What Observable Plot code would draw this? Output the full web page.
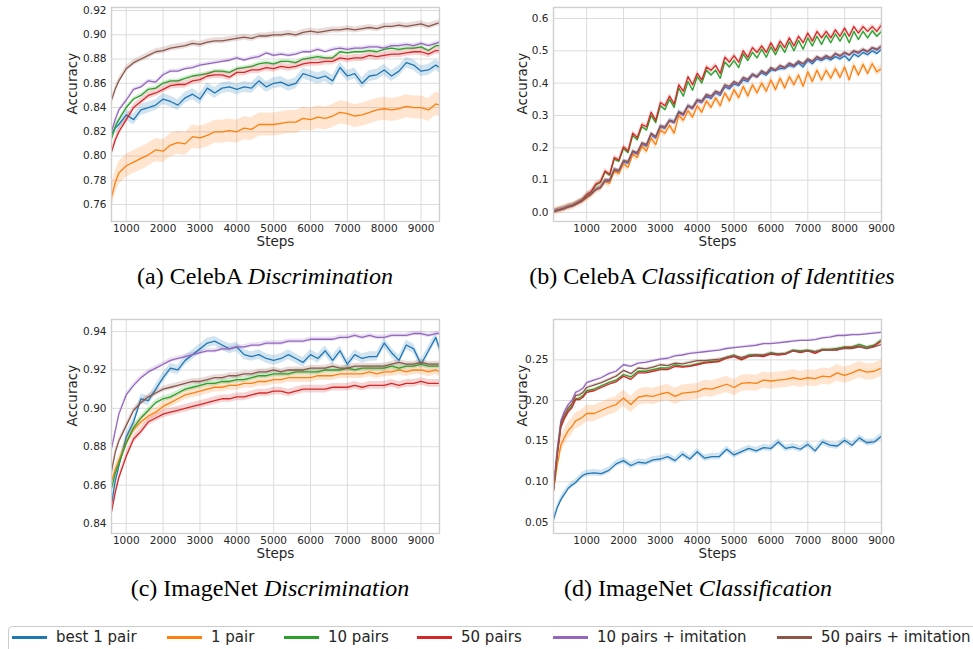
<!DOCTYPE html>
<html><head><meta charset="utf-8">
<script src="https://cdn.jsdelivr.net/npm/d3@7"></script>
<script src="https://cdn.jsdelivr.net/npm/@observablehq/plot@0.6"></script>
<style>
html,body{margin:0;padding:0;background:#fff;}
#root{position:relative;width:973px;height:649px;overflow:hidden;background:#fff;}
.panel{position:absolute;}
.cap{position:absolute;font-family:"Liberation Serif","Times New Roman",serif;font-size:24px;line-height:24px;color:#000;white-space:nowrap;transform:translateX(-50%);}
.legend{position:absolute;left:8px;top:626px;width:990px;height:40px;border:1px solid #cccccc;border-radius:4px;box-sizing:border-box;}
.lg-line{position:absolute;height:2.5px;width:35px;top:636px;}
.lg-text{position:absolute;top:628px;font-family:"DejaVu Sans";font-size:15px;line-height:18px;color:#262626;white-space:nowrap;}
</style>
</head><body>
<div id="root"></div>
<script>
// ---------- data ----------
const seriesNames = ["best 1 pair", "1 pair", "10 pairs", "50 pairs", "10 pairs + imitation", "50 pairs + imitation"];
const seriesColors = ["#1f77b4", "#ff7f0e", "#2ca02c", "#d62728", "#9467bd", "#8c564b"];

// (a) CelebA Discrimination and (c) ImageNet Discrimination share steps
const stepsAC = [600,700,800,1000,1200,1400,1600,1800,2000,2200,2400,2600,2800,3000,3200,3400,3600,3800,4000,4200,4400,4600,4800,5000,5200,5400,5600,5800,6000,6200,6400,6600,6800,7000,7200,7400,7600,7800,8000,8200,8400,8600,8800,9000,9200,9400,9500];

const aBest1 = [0.818,0.823,0.826, 0.834,0.830,0.838,0.840,0.842,0.847,0.845,0.842,0.848,0.851, 0.847,0.856,0.852,0.856,0.857,0.855,0.857,0.856,0.862,0.857, 0.860,0.861,0.858,0.860,0.868,0.866,0.864,0.866,0.862,0.873, 0.866,0.868,0.860,0.866,0.867,0.871,0.866,0.870,0.877,0.875, 0.870,0.871,0.875, 0.873];
const aPair1 = [0.766,0.778,0.786, 0.792,0.795,0.798,0.801,0.805,0.804,0.809,0.811,0.810,0.816, 0.815,0.817,0.820,0.820,0.821,0.820,0.823,0.822,0.826,0.826, 0.826,0.827,0.828,0.828,0.831,0.830,0.832,0.831,0.833,0.836, 0.835,0.833,0.834,0.836,0.838,0.839,0.838,0.839,0.841,0.840, 0.840,0.838,0.843, 0.842];
const aPairs10 = [0.814,0.824,0.830, 0.840,0.847,0.850,0.855,0.856,0.860,0.862,0.862,0.864,0.866, 0.867,0.868,0.870,0.870,0.869,0.872,0.873,0.874,0.876,0.877, 0.876,0.878,0.878,0.877,0.880,0.881,0.882,0.881,0.881,0.886, 0.885,0.886,0.886,0.887,0.886,0.888,0.889,0.888,0.889,0.889, 0.890,0.887,0.891, 0.891];
const aPairs50 = [0.803,0.813,0.820, 0.830,0.840,0.845,0.850,0.852,0.855,0.858,0.859,0.859,0.862, 0.863,0.866,0.867,0.867,0.865,0.869,0.869,0.871,0.871,0.873, 0.872,0.874,0.873,0.874,0.876,0.877,0.877,0.878,0.878,0.881, 0.880,0.881,0.881,0.883,0.882,0.883,0.884,0.884,0.885,0.886, 0.886,0.884,0.887, 0.887];
const aImit10 = [0.820,0.830,0.838, 0.846,0.855,0.857,0.862,0.861,0.867,0.870,0.870,0.872,0.873, 0.875,0.876,0.877,0.878,0.879,0.881,0.879,0.881,0.882,0.885, 0.883,0.884,0.883,0.884,0.886,0.886,0.888,0.886,0.888,0.889, 0.888,0.889,0.889,0.890,0.890,0.889,0.891,0.891,0.892,0.891, 0.893,0.891,0.893, 0.894];
const aImit50 = [0.846,0.855,0.862, 0.872,0.877,0.880,0.883,0.886,0.887,0.889,0.890,0.891,0.893, 0.892,0.894,0.895,0.895,0.896,0.897,0.898,0.897,0.899,0.899, 0.900,0.900,0.901,0.900,0.902,0.903,0.902,0.903,0.904,0.904, 0.905,0.904,0.905,0.906,0.905,0.907,0.907,0.908,0.907,0.908, 0.909,0.907,0.909, 0.910];
const aSpread = [0.0045, 0.0095, 0.0015, 0.003, 0.0015, 0.0025];

const cBest1 = [0.850,0.862,0.870, 0.885,0.893,0.905,0.904,0.910,0.916,0.921,0.920,0.925,0.928, 0.931,0.934,0.935,0.933,0.931,0.932,0.928,0.927,0.928,0.926, 0.925,0.926,0.928,0.926,0.924,0.928,0.926,0.930,0.925,0.930, 0.923,0.928,0.926,0.927,0.927,0.934,0.929,0.925,0.933,0.931, 0.923,0.930,0.937, 0.931];
const cPair1 = [0.862,0.868,0.873, 0.882,0.889,0.893,0.896,0.898,0.901,0.903,0.905,0.907,0.908, 0.909,0.910,0.911,0.911,0.912,0.912,0.913,0.913,0.914,0.914, 0.915,0.915,0.916,0.916,0.916,0.916,0.917,0.917,0.917,0.918, 0.918,0.918,0.918,0.919,0.918,0.919,0.919,0.920,0.919,0.920, 0.920,0.919,0.920, 0.919];
const cPairs10 = [0.858,0.866,0.871, 0.882,0.890,0.895,0.899,0.903,0.905,0.906,0.908,0.910,0.911, 0.912,0.913,0.913,0.914,0.914,0.915,0.915,0.916,0.917,0.917, 0.918,0.918,0.918,0.919,0.919,0.919,0.919,0.920,0.920,0.920, 0.921,0.920,0.921,0.921,0.921,0.921,0.922,0.921,0.922,0.922, 0.923,0.922,0.922, 0.922];
const cPairs50 = [0.846,0.856,0.864, 0.875,0.884,0.888,0.893,0.895,0.897,0.898,0.899,0.900,0.901, 0.902,0.903,0.904,0.905,0.905,0.906,0.906,0.907,0.908,0.908, 0.909,0.909,0.908,0.909,0.910,0.910,0.910,0.910,0.911,0.911, 0.911,0.912,0.911,0.912,0.912,0.912,0.913,0.912,0.913,0.913, 0.914,0.913,0.913, 0.913];
const cImit10 = [0.879,0.888,0.897, 0.907,0.912,0.916,0.919,0.921,0.923,0.925,0.926,0.927,0.928, 0.929,0.930,0.930,0.931,0.931,0.932,0.932,0.933,0.933,0.934, 0.934,0.934,0.935,0.935,0.935,0.936,0.936,0.936,0.936,0.937, 0.937,0.938,0.937,0.938,0.937,0.937,0.938,0.938,0.938,0.939, 0.939,0.938,0.939, 0.939];
const cImit50 = [0.867,0.877,0.883, 0.891,0.899,0.903,0.906,0.908,0.910,0.911,0.912,0.913,0.914, 0.914,0.915,0.916,0.916,0.917,0.917,0.918,0.918,0.919,0.919, 0.920,0.919,0.920,0.920,0.920,0.921,0.921,0.921,0.922,0.921, 0.921,0.922,0.922,0.922,0.922,0.922,0.923,0.924,0.923,0.923, 0.924,0.923,0.923, 0.923];
const cSpread = [0.0025, 0.0025, 0.0015, 0.002, 0.0012, 0.0015];

// (b) CelebA Classification of Identities
const stepsB = [100,250,375,500,625,750,875,1000,1125,1250,1375,1500,1625,1750,1875,2000,2125,2250,2375,2500,2625,2750,2875,3000,3125,3250,3375,3500,3625,3750,3875,4000,4125,4250,4375,4500,4625,4750,4875,5000,5125,5250,5375,5500,5625,5750,5875,6000,6125,6250,6375,6500,6625,6750,6875,7000,7125,7250,7375,7500,7625,7750,7875,8000,8125,8250,8375,8500,8625,8750,8875,9000];
const bBest1 = [0.003,0.008,0.012,0.017,0.021,0.028,0.035,0.046, 0.056,0.070,0.076,0.097,0.096,0.130,0.126,0.156, 0.152,0.186,0.180,0.211,0.205,0.240,0.230,0.264, 0.260,0.285,0.280,0.312,0.303,0.330,0.322,0.345, 0.340,0.360,0.352,0.370,0.362,0.388,0.382,0.398, 0.392,0.410,0.405,0.425,0.420,0.432,0.425,0.440, 0.440,0.445,0.445,0.455,0.450,0.462,0.450,0.470, 0.460,0.475,0.470,0.478,0.472,0.482,0.475,0.485, 0.470,0.490,0.482,0.495,0.488,0.500,0.492,0.505];
const bPair1 = [0.003,0.008,0.012,0.017,0.020,0.027,0.034,0.045, 0.055,0.070,0.075,0.095,0.090,0.128,0.120,0.150, 0.140,0.180,0.170,0.205,0.190,0.230,0.210,0.255, 0.245,0.270,0.245,0.300,0.285,0.315,0.295,0.330, 0.310,0.345,0.325,0.355,0.330,0.370,0.345,0.380, 0.355,0.390,0.360,0.395,0.370,0.400,0.375,0.410, 0.380,0.415,0.385,0.420,0.395,0.425,0.390,0.435, 0.405,0.440,0.410,0.440,0.415,0.445,0.418,0.450, 0.410,0.455,0.425,0.458,0.430,0.460,0.435,0.445];
const bPairs10 = [0.003,0.008,0.012,0.018,0.022,0.030,0.038,0.055, 0.063,0.085,0.093,0.125,0.115,0.165,0.158,0.198, 0.185,0.238,0.225,0.265,0.255,0.300,0.278,0.330, 0.318,0.350,0.325,0.385,0.360,0.405,0.378,0.420, 0.400,0.440,0.425,0.440,0.415,0.465,0.450,0.470, 0.448,0.490,0.470,0.495,0.478,0.505,0.480,0.512, 0.488,0.518,0.495,0.528,0.500,0.532,0.505,0.540, 0.515,0.545,0.520,0.548,0.525,0.552,0.530,0.555, 0.525,0.560,0.535,0.560,0.540,0.562,0.545,0.560];
const bPairs50 = [0.003,0.008,0.012,0.018,0.022,0.030,0.038,0.055, 0.065,0.088,0.095,0.128,0.118,0.170,0.162,0.203, 0.190,0.245,0.232,0.272,0.265,0.310,0.285,0.340, 0.330,0.360,0.335,0.395,0.375,0.420,0.395,0.430, 0.410,0.450,0.440,0.455,0.430,0.480,0.465,0.485, 0.465,0.500,0.480,0.510,0.495,0.515,0.495,0.525, 0.500,0.530,0.510,0.540,0.515,0.545,0.525,0.555, 0.530,0.560,0.540,0.560,0.540,0.565,0.545,0.570, 0.545,0.575,0.555,0.575,0.560,0.575,0.560,0.580];
const bImit10 = [0.003,0.008,0.012,0.017,0.021,0.028,0.036,0.047, 0.057,0.071,0.077,0.098,0.098,0.135,0.128,0.158, 0.155,0.188,0.182,0.213,0.206,0.243,0.232,0.266, 0.262,0.283,0.276,0.308,0.300,0.328,0.320,0.345, 0.340,0.362,0.355,0.372,0.365,0.392,0.385,0.402, 0.395,0.415,0.408,0.425,0.418,0.436,0.428,0.446, 0.438,0.452,0.445,0.460,0.452,0.466,0.458,0.473, 0.465,0.480,0.472,0.483,0.476,0.490,0.482,0.493, 0.486,0.498,0.492,0.503,0.496,0.508,0.502,0.512];
const bImit50 = [0.003,0.008,0.012,0.017,0.021,0.028,0.036,0.048, 0.058,0.072,0.078,0.100,0.100,0.132,0.130,0.160, 0.158,0.190,0.185,0.215,0.210,0.245,0.235,0.268, 0.265,0.285,0.280,0.310,0.305,0.330,0.325,0.348, 0.345,0.365,0.360,0.375,0.370,0.395,0.390,0.405, 0.398,0.418,0.412,0.428,0.420,0.438,0.430,0.448, 0.440,0.455,0.448,0.462,0.455,0.468,0.460,0.475, 0.468,0.482,0.475,0.485,0.478,0.492,0.485,0.495, 0.488,0.500,0.495,0.505,0.498,0.510,0.505,0.515];
const bSpread = [0.008, 0.012, 0.006, 0.008, 0.006, 0.005];

// (d) ImageNet Classification
const stepsD = [100,200,300,400,500,600,700,800,900,1000,1200,1400,1600,1800,2000,2200,2400,2600,2800,3000,3200,3400,3600,3800,4000,4200,4400,4600,4800,5000,5200,5400,5600,5800,6000,6200,6400,6600,6800,7000,7200,7400,7600,7800,8000,8200,8400,8600,8800,9000];
const dBest1 = [0.053,0.068,0.078,0.085,0.092,0.096,0.099,0.104,0.108,0.110, 0.111,0.110,0.114,0.122,0.126,0.120,0.124,0.123,0.127,0.128, 0.131,0.126,0.134,0.128,0.137,0.129,0.131,0.131,0.140,0.133, 0.137,0.141,0.138,0.142,0.141,0.149,0.141,0.143,0.140,0.146, 0.138,0.149,0.145,0.144,0.151,0.145,0.154,0.148,0.149,0.156];
const dPair1 = [0.088,0.120,0.145,0.155,0.163,0.168,0.175,0.177,0.180,0.184, 0.184,0.188,0.192,0.195,0.203,0.195,0.204,0.206,0.205,0.208, 0.210,0.205,0.209,0.210,0.211,0.215,0.214,0.217,0.220,0.216, 0.221,0.222,0.221,0.225,0.224,0.225,0.226,0.228,0.226,0.228, 0.227,0.230,0.229,0.234,0.231,0.234,0.238,0.235,0.236,0.240];
const dPairs10 = [0.090,0.133,0.168,0.180,0.188,0.193,0.202,0.203,0.206,0.212, 0.214,0.218,0.222,0.225,0.232,0.229,0.236,0.236,0.238,0.240, 0.240,0.244,0.242,0.243,0.245,0.247,0.248,0.249,0.253,0.256, 0.251,0.256,0.256,0.255,0.259,0.257,0.258,0.262,0.261,0.262, 0.260,0.263,0.263,0.264,0.266,0.266,0.269,0.266,0.268,0.275];
const dPairs50 = [0.089,0.132,0.167,0.178,0.186,0.191,0.201,0.201,0.204,0.210, 0.212,0.216,0.220,0.223,0.230,0.226,0.234,0.234,0.236,0.238, 0.238,0.242,0.241,0.242,0.244,0.246,0.247,0.248,0.252,0.254, 0.250,0.254,0.255,0.254,0.257,0.256,0.257,0.261,0.259,0.261, 0.258,0.262,0.262,0.262,0.265,0.265,0.267,0.264,0.267,0.273];
const dImit10 = [0.092,0.140,0.175,0.187,0.195,0.200,0.210,0.212,0.215,0.222, 0.225,0.228,0.233,0.236,0.244,0.242,0.246,0.247,0.249,0.251, 0.252,0.255,0.256,0.258,0.259,0.260,0.261,0.262,0.264,0.265, 0.266,0.267,0.268,0.270,0.270,0.271,0.272,0.273,0.274,0.274, 0.275,0.277,0.278,0.280,0.280,0.281,0.281,0.282,0.283,0.284];
const dImit50 = [0.090,0.135,0.172,0.183,0.191,0.196,0.206,0.207,0.210,0.216, 0.219,0.222,0.226,0.230,0.237,0.233,0.240,0.239,0.241,0.244, 0.243,0.246,0.245,0.247,0.249,0.249,0.250,0.251,0.253,0.255, 0.253,0.255,0.256,0.256,0.258,0.257,0.258,0.261,0.260,0.261, 0.260,0.262,0.262,0.263,0.264,0.264,0.266,0.264,0.266,0.269];
const dSpread = [0.004, 0.01, 0.0015, 0.0015, 0.0015, 0.0015];

const xTicks = [1000,2000,3000,4000,5000,6000,7000,8000,9000];
const yTicksA = [0.76,0.78,0.80,0.82,0.84,0.86,0.88,0.90,0.92];
const yTicksB = [0.0,0.1,0.2,0.3,0.4,0.5,0.6];
const yTicksC = [0.84,0.86,0.88,0.90,0.92,0.94];
const yTicksD = [0.05,0.10,0.15,0.20,0.25];

const captions = [
  ["(a) CelebA ", "Discrimination"],
  ["(b) CelebA ", "Classification of Identities"],
  ["(c) ImageNet ", "Discrimination"],
  ["(d) ImageNet ", "Classification"]
];

// ---------- drawing ----------
const TEXT = "#262626", GRID = "#dcdcdc", SPINE = "#cfcfcf";
const root = document.getElementById("root");

function drawPanel(cfg) {
  const marks = [
    Plot.gridX(xTicks, {stroke: GRID, strokeOpacity: 1, strokeWidth: 1}),
    Plot.gridY(cfg.yTicks, {stroke: GRID, strokeOpacity: 1, strokeWidth: 1})
  ];
  cfg.values.forEach((vals, i) => {
    const rows = cfg.steps.map((s, j) => ({step: s, v: vals[j], lo: vals[j] - cfg.spread[i], hi: vals[j] + cfg.spread[i]}));
    marks.push(Plot.areaY(rows, {x: "step", y1: "lo", y2: "hi", fill: seriesColors[i], fillOpacity: 0.2, clip: true}));
    marks.push(Plot.lineY(rows, {x: "step", y: "v", stroke: seriesColors[i], strokeWidth: 1.3, clip: true}));
  });
  marks.push(Plot.frame({stroke: SPINE, strokeWidth: 1.4}));
  marks.push(Plot.axisX(xTicks, {tickSize: 0, tickPadding: 3, tickFormat: d => String(d), label: null, fontSize: 10.5, fill: TEXT}));
  marks.push(Plot.axisY(cfg.yTicks, {tickSize: 0, tickPadding: 5, tickFormat: d3.format(cfg.fmt), label: null, fontSize: 10.5, fill: TEXT}));
  marks.push(Plot.text(["Accuracy"], {text: d => d, frameAnchor: "left", rotate: -90, dx: -cfg.ylabDx, fontSize: 13.5, fill: TEXT}));
  marks.push(Plot.text(["Steps"], {text: d => d, frameAnchor: "bottom", dy: 24.5, fontSize: 13.5, fill: TEXT}));
  const svg = Plot.plot({
    width: cfg.width, height: cfg.height,
    marginLeft: cfg.ml, marginRight: cfg.width - cfg.ml - 328, marginTop: 7, marginBottom: cfg.height - 7 - 214,
    x: {domain: cfg.xDomain, label: null},
    y: {domain: cfg.yDomain, label: null},
    style: {fontFamily: "DejaVu Sans", fontSize: "10.5px", color: TEXT, background: "transparent", overflow: "visible"},
    marks
  });
  const div = document.createElement("div");
  div.className = "panel";
  div.style.left = cfg.left + "px";
  div.style.top = cfg.top + "px";
  div.appendChild(svg);
  root.appendChild(div);
}

drawPanel({left: 0, top: 0, width: 480, height: 262, ml: 111, steps: stepsAC,
  values: [aBest1, aPair1, aPairs10, aPairs50, aImit10, aImit50], spread: aSpread,
  xDomain: [600, 9500], yDomain: [0.746, 0.9225], yTicks: yTicksA, fmt: ".2f", ylabDx: 38.5});
drawPanel({left: 480, top: 0, width: 493, height: 262, ml: 73, steps: stepsB,
  values: [bBest1, bPair1, bPairs10, bPairs50, bImit10, bImit50], spread: bSpread,
  xDomain: [100, 9000], yDomain: [-0.028, 0.634], yTicks: yTicksB, fmt: ".1f", ylabDx: 31});
drawPanel({left: 0, top: 312, width: 480, height: 262, ml: 111, steps: stepsAC,
  values: [cBest1, cPair1, cPairs10, cPairs50, cImit10, cImit50], spread: cSpread,
  xDomain: [600, 9500], yDomain: [0.8348, 0.9463], yTicks: yTicksC, fmt: ".2f", ylabDx: 38.5});
drawPanel({left: 480, top: 312, width: 493, height: 262, ml: 73, steps: stepsD,
  values: [dBest1, dPair1, dPairs10, dPairs50, dImit10, dImit50], spread: dSpread,
  xDomain: [100, 9000], yDomain: [0.0363, 0.2997], yTicks: yTicksD, fmt: ".2f", ylabDx: 31});

// captions
const capPos = [[265, 264], [712, 264], [270, 576], [698, 576]];
captions.forEach((c, i) => {
  const d = document.createElement("div");
  d.className = "cap";
  d.style.left = capPos[i][0] + "px";
  d.style.top = capPos[i][1] + "px";
  d.appendChild(document.createTextNode(c[0]));
  const it = document.createElement("i");
  it.textContent = c[1];
  d.appendChild(it);
  root.appendChild(d);
});

// legend
const lg = document.createElement("div");
lg.className = "legend";
root.appendChild(lg);
const lgX = [12, 167, 284, 417, 553, 777];
seriesNames.forEach((n, i) => {
  const l = document.createElement("div");
  l.className = "lg-line";
  l.style.left = lgX[i] + "px";
  l.style.background = seriesColors[i];
  root.appendChild(l);
  const t = document.createElement("div");
  t.className = "lg-text";
  t.style.left = (lgX[i] + 44) + "px";
  t.textContent = n;
  root.appendChild(t);
});
</script>
</body></html>
